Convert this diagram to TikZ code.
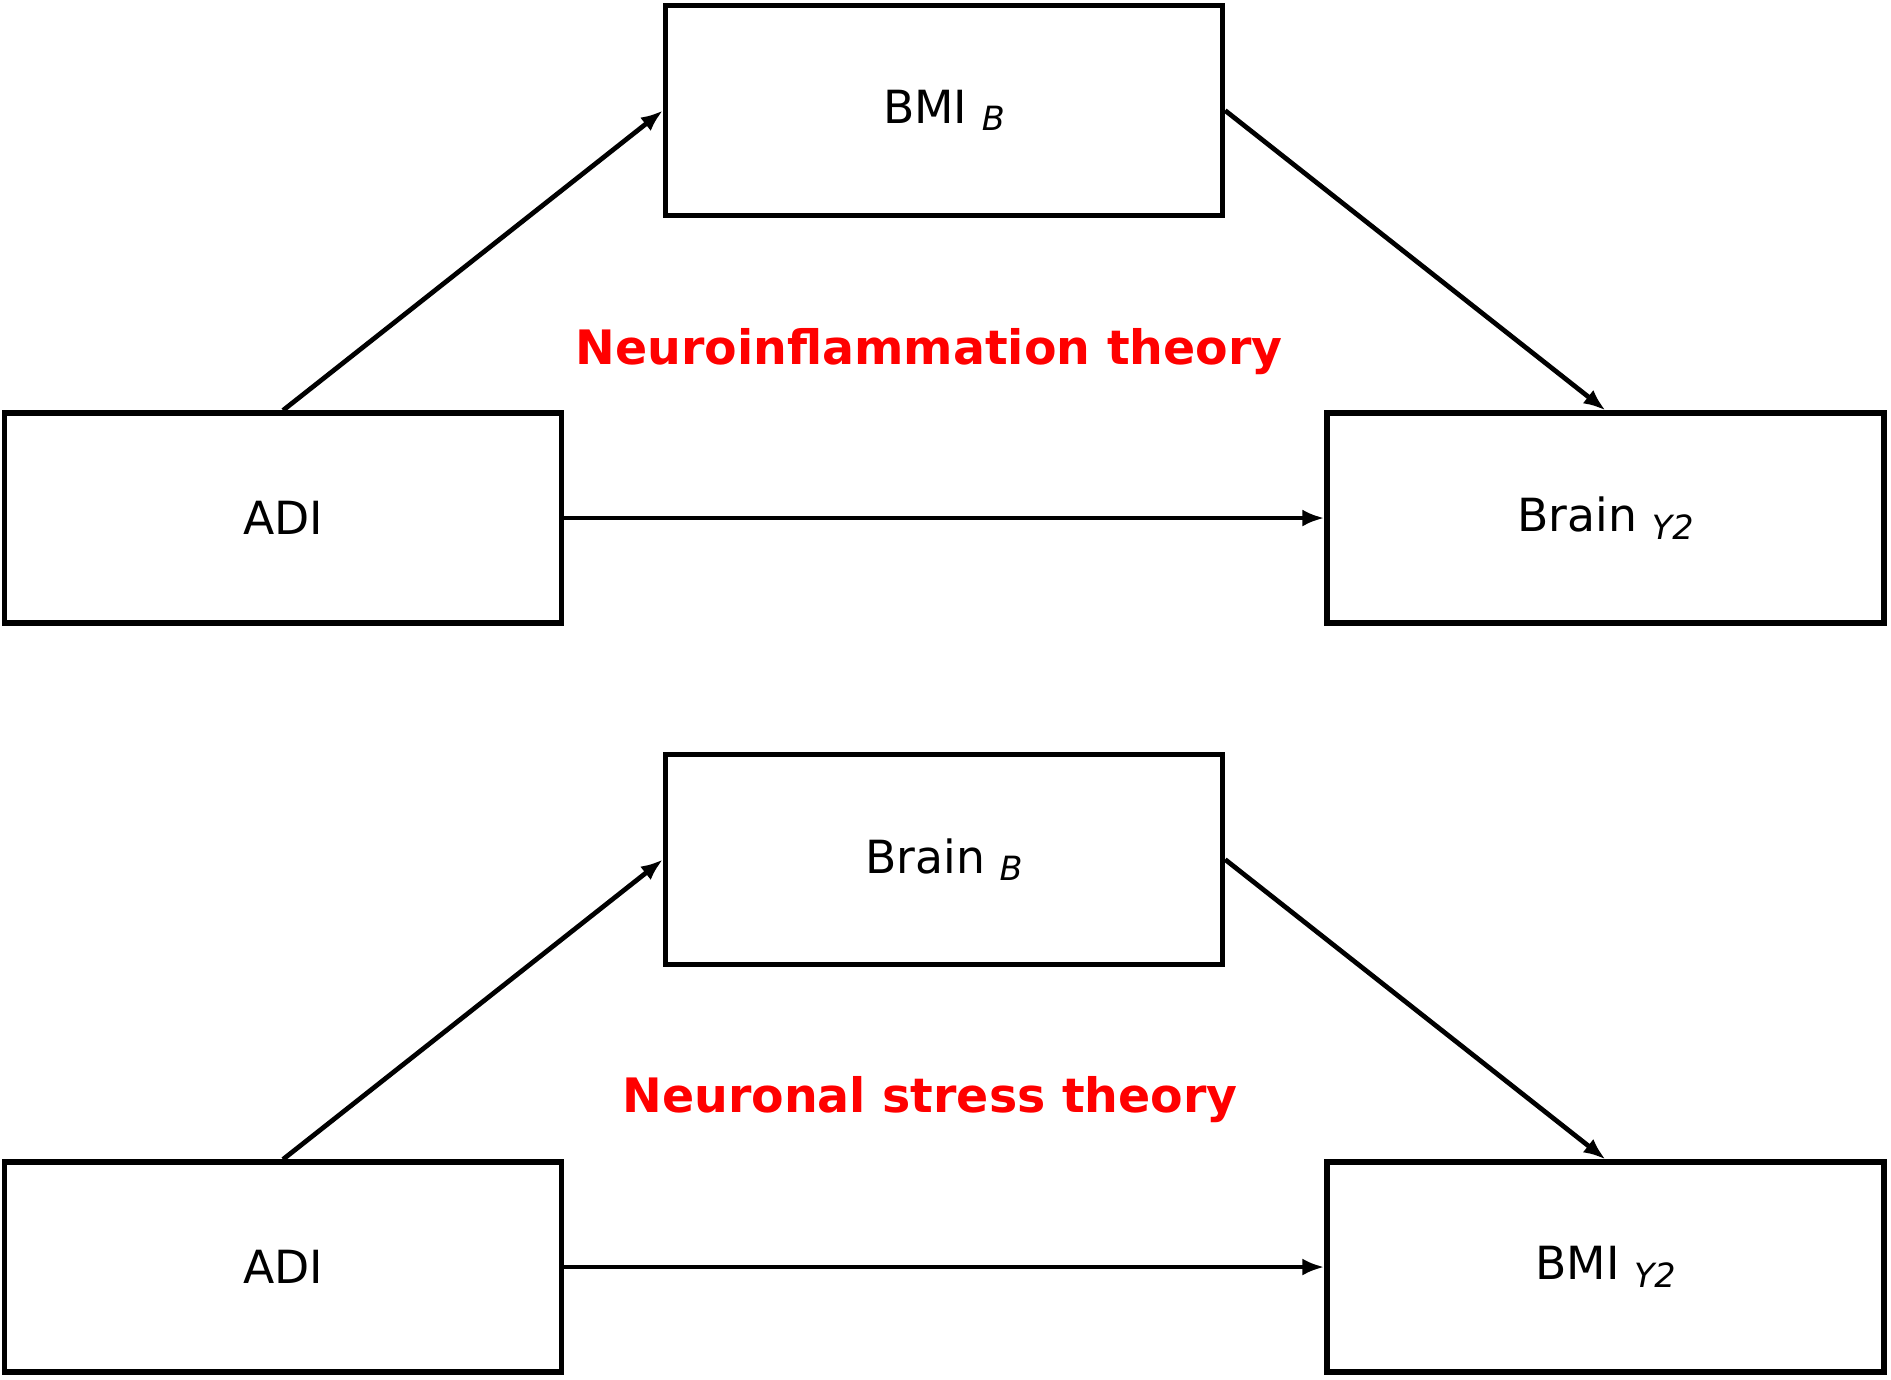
\documentclass[tikz,border=0pt]{standalone}
\usepackage{fontspec}
\setmainfont{DejaVu Sans}
\usepackage{tikz}
\usetikzlibrary{arrows.meta}

\newcommand{\subvar}[1]{\raisebox{-0.3ex}{\fontsize{9.5}{10}\selectfont\itshape #1}}

\begin{document}
\begin{tikzpicture}[
    every node/.style={font=\fontsize{13}{15}\selectfont},
    box/.style={draw, line width=1.5pt, minimum width=5.57cm, minimum height=2.1cm, inner sep=0pt},
    theory/.style={text=red, font=\fontsize{13.5}{15}\selectfont\bfseries},
    >={Latex[length=2.2mm,width=1.7mm]},
    link/.style={->, line width=1.35pt}]

\useasboundingbox (0,0) rectangle (18.91,-13.79);

% Neuroinflammation theory
\node[box] (bmib) at (9.44, -1.105) {BMI \subvar{B}};
\node[box] (adi1) at (2.83, -5.18) {ADI};
\node[box] (brainy) at (16.055, -5.18) {Brain \subvar{Y2}};
\node[theory] (th1) at (9.29, -3.52) {Neuroinflammation theory};
\draw[link] (adi1.north) -- (bmib.west);
\draw[link] (bmib.east) -- (brainy.north);
\draw[link] (adi1) -- (brainy);

% Neuronal stress theory
\node[box] (brainb) at (9.44, -8.595) {Brain \subvar{B}};
\node[box] (adi2) at (2.83, -12.67) {ADI};
\node[box] (bmiy) at (16.055, -12.67) {BMI \subvar{Y2}};
\node[theory] (th2) at (9.3, -11.0) {Neuronal stress theory};
\draw[link] (adi2.north) -- (brainb.west);
\draw[link] (brainb.east) -- (bmiy.north);
\draw[link] (adi2) -- (bmiy);

\end{tikzpicture}
\end{document}
